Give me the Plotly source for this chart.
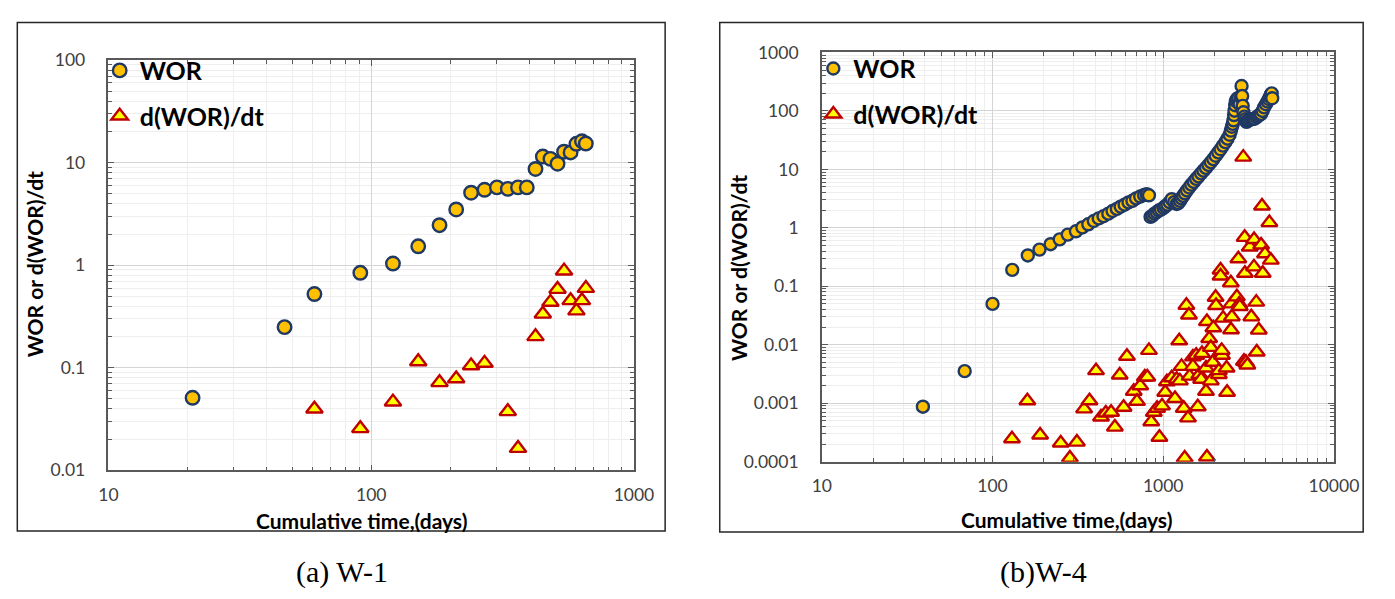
import numpy as np
import plotly.graph_objects as go

# ---------------- W-1 ----------------
w1_time = [20.9, 46.8, 60.8, 90.9, 121, 151, 182, 210.6, 240, 270, 301, 331, 362,
           391, 422, 450, 481, 512, 542, 574, 604, 634, 656]
w1_wor = [0.051, 0.249, 0.524, 0.844, 1.04, 1.53, 2.46, 3.50, 5.10, 5.45, 5.75, 5.56,
          5.75, 5.75, 8.69, 11.5, 10.9, 9.78, 12.8, 12.6, 15.3, 16.2, 15.4]

w1_dtime = [60.8, 90.9, 121, 151, 182, 210.6, 240, 270, 331, 362, 422, 450, 481, 512,
            542, 574, 604, 634, 656]
w1_dwor = [0.0397, 0.0256, 0.0465, 0.115, 0.0719, 0.0783, 0.105, 0.111, 0.0375, 0.0164,
           0.202, 0.335, 0.437, 0.584, 0.882, 0.453, 0.36, 0.453, 0.597]

# ---------------- W-4 ----------------
w4_time = [39.1, 68.7, 100, 130.5, 161, 188.5, 219, 247.5, 276, 308, 336, 364, 392, 419,
           447, 477, 505, 535, 563, 594, 626, 660, 693, 733, 772, 800, 825,
           843, 865, 889, 915, 941, 970, 1005, 1030, 1059, 1090, 1122, 1160, 1199, 1225,
           1253, 1280, 1308, 1340, 1378, 1420, 1461, 1510, 1560, 1610, 1667, 1720, 1780,
           1840, 1901, 1965, 2030, 2100, 2167, 2240, 2313, 2380, 2449, 2490, 2524, 2555,
           2581, 2600, 2616, 2640, 2661, 2700, 2755, 2800, 2856, 2877, 2900, 2920, 2950,
           2990, 3030, 3076, 3130, 3200, 3280, 3350, 3433, 3520, 3600, 3680, 3741, 3820,
           3900, 3997, 4080, 4150, 4220, 4271, 4320, 4350]
w4_wor = [0.00087, 0.00353, 0.05, 0.191, 0.337, 0.424, 0.525, 0.634, 0.766, 0.872, 1.016,
          1.15, 1.31, 1.45, 1.58, 1.75, 1.94, 2.11, 2.31, 2.49, 2.73, 2.90, 3.18, 3.43,
          3.64, 3.75, 3.6,
          1.54, 1.62, 1.75, 1.85, 1.98, 2.05, 2.20, 2.35, 2.49, 2.75, 3.09, 2.75, 2.56,
          2.65, 2.90, 3.2, 3.51, 3.9, 4.36, 4.9, 5.47, 6.1, 6.87, 7.6, 8.53, 9.5, 10.6,
          11.9, 13.3, 15.0, 17.1, 19.5, 22.1, 25.5, 29.2, 33.5, 39.1, 46, 53.6, 60,
          69.1, 85, 101, 125, 148, 160, 167, 130, 172, 267, 180, 122, 95,
          80, 72, 65, 68, 70, 72, 73, 73.5, 78, 82, 86, 88.8, 100,
          115, 130, 145, 160, 175, 190, 200, 165]

w4_dtime = [130, 160, 190, 251, 284, 312, 344, 370, 404, 432, 461, 495, 521, 556, 586, 613,
            672, 702, 733, 780, 807, 825, 851, 881, 921, 950, 984, 1027, 1051, 1122, 1172,
            1199, 1241, 1252, 1280, 1319, 1336, 1367, 1397, 1415, 1428, 1493, 1493, 1560,
            1594, 1629, 1667, 1687, 1780, 1780, 1803, 1803, 1859, 1900, 1900, 1950, 1966,
            2027, 2040, 2118, 2118, 2167, 2167, 2167, 2209, 2200, 2243, 2350, 2366, 2490,
            2495, 2510, 2524, 2700, 2754, 2790, 2810, 2943, 2970, 3000, 3010, 3050, 3110,
            3214, 3281, 3400, 3405, 3507, 3530, 3630, 3745, 3790, 3828, 3946, 4188, 4270]
w4_dwor = [0.000246, 0.0011, 0.000286, 0.000208, 0.000115, 0.000216, 0.0008, 0.0011,
           0.0036, 0.00058, 0.00068, 0.0007, 0.00039, 0.00303, 0.00085, 0.00637,
           0.0016, 0.00108, 0.00199, 0.0028, 0.0028, 0.008, 0.00048, 0.0007, 0.00082,
           0.000262, 0.0009, 0.00154, 0.00232, 0.00273, 0.0012,
           0.00256, 0.0117, 0.00241, 0.00426, 0.00082, 0.000115, 0.0472, 0.00056, 0.0323,
           0.0029, 0.0062, 0.00426, 0.0066,
           0.00087, 0.0031, 0.00256, 0.0071, 0.004, 0.0016, 0.00012, 0.025, 0.0128, 0.009,
           0.00241, 0.005, 0.0195,
           0.0649, 0.047, 0.0031, 0.0036, 0.19, 0.15, 0.0075, 0.0066, 0.008, 0.0285,
           0.004, 0.00154, 0.1145,
           0.018, 0.05, 0.03, 0.066, 0.296, 0.05, 0.045, 16.2, 0.0052, 0.688, 0.1675,
           0.005, 0.0045,
           0.47, 0.03, 0.215, 0.63, 0.0536, 0.0075, 0.0178, 0.51, 2.37, 0.1675, 0.36,
           1.23, 0.28]

# Tick labels
w1_xticks = [10, 100, 1000]
w1_yticks = [0.01, 0.1, 1, 10, 100]
w1_yticktext = ["0.01", "0.1", "1", "10", "100"]
w4_xticks = [10, 100, 1000, 10000]
w4_yticks = [0.0001, 0.001, 0.01, 0.1, 1, 10, 100, 1000]
w4_yticktext = ["0.0001", "0.001", "0.01", "0.1", "1", "10", "100", "1000"]

W, H = 1395, 599
TICK_FONT = dict(family="Lato", size=17.5, color="#404040")
NAVY = "#1F3864"
GOLD = "#FFC000"


def minor_vals(lo, hi):
    vals = []
    for e in range(lo, hi):
        for m in range(2, 10):
            vals.append(m * 10.0 ** e)
    return vals


def px_x(p):
    return p / W


def px_y(p):
    return 1 - p / H


fig = go.Figure()

# WOR circles and derivative triangles, W-1
fig.add_trace(go.Scatter(
    x=w1_time, y=w1_wor, mode="markers", name="WOR", xaxis="x", yaxis="y",
    legend="legend", legendgroup="a1",
    marker=dict(symbol="circle", size=13.5, color=GOLD, line=dict(color=NAVY, width=2.4))))
fig.add_trace(go.Scatter(
    x=w1_dtime, y=w1_dwor, mode="markers", name="d(WOR)/dt", xaxis="x", yaxis="y",
    legend="legend", legendgroup="a2",
    marker=dict(symbol="triangle-up", size=14.5, color="#FFFF00",
                line=dict(color="#C00000", width=2.4))))

# W-4
fig.add_trace(go.Scatter(
    x=w4_time, y=w4_wor, mode="markers", name="WOR", xaxis="x2", yaxis="y2",
    legend="legend2", legendgroup="b1",
    marker=dict(symbol="circle", size=12, color=GOLD, line=dict(color=NAVY, width=2.4))))
fig.add_trace(go.Scatter(
    x=w4_dtime, y=w4_dwor, mode="markers", name="d(WOR)/dt", xaxis="x2", yaxis="y2",
    legend="legend2", legendgroup="b2",
    marker=dict(symbol="triangle-up", size=14, color="#FFFF00",
                line=dict(color="#C00000", width=2.4))))


def log_axis(domain, rng, tickvals, ticktext, anchor, minor_lo, minor_hi, standoff):
    return dict(
        type="log", domain=domain, range=rng, anchor=anchor,
        tickmode="array", tickvals=tickvals, ticktext=ticktext,
        ticks="inside", ticklen=6, tickwidth=1, tickcolor="#595959",
        showline=True, linecolor="#595959", linewidth=1.5, mirror="allticks",
        showgrid=True, gridcolor="#D4D4D4", gridwidth=1,
        zeroline=False, tickfont=TICK_FONT, ticklabelstandoff=standoff,
        minor=dict(tickmode="array", tickvals=minor_vals(minor_lo, minor_hi),
                   ticks="inside", ticklen=4, tickcolor="#595959",
                   showgrid=True, gridcolor="#EEEEEE", gridwidth=1),
    )


LEGEND_FONT = dict(family="Lato", size=25, color="#000000", weight="bold")

fig.update_layout(
    width=W, height=H,
    margin=dict(l=0, r=0, t=0, b=0),
    paper_bgcolor="white", plot_bgcolor="white",
    xaxis=log_axis([px_x(101), px_x(640)], [1, 3], w1_xticks,
                   [str(v) for v in w1_xticks], "y", 1, 3, 8),
    yaxis=log_axis([px_y(476), px_y(51)], [-2, 2], w1_yticks, w1_yticktext, "x", -2, 2, 18),
    xaxis2=log_axis([px_x(832.7), px_x(1358)], [1, 4], w4_xticks,
                    [str(v) for v in w4_xticks], "y2", 1, 4, 8),
    yaxis2=log_axis([px_y(467), px_y(43)], [-4, 3], w4_yticks, w4_yticktext, "x2", -4, 3,
                    18),
    legend=dict(x=px_x(92), y=px_y(38), xanchor="left", yanchor="top",
                bgcolor="rgba(0,0,0,0)", tracegroupgap=10, itemsizing="trace",
                font=LEGEND_FONT),
    legend2=dict(x=px_x(824), y=px_y(36), xanchor="left", yanchor="top",
                 bgcolor="rgba(0,0,0,0)", tracegroupgap=10, itemsizing="trace",
                 font=LEGEND_FONT),
    showlegend=True,
)

# Panel frames
for x0, x1, y0, y1 in [(7.5, 672, 12, 539), (728, 1388, 12, 540)]:
    fig.add_shape(type="rect", xref="paper", yref="paper",
                  x0=px_x(x0), x1=px_x(x1), y0=px_y(y1), y1=px_y(y0),
                  line=dict(color="#262626", width=1.5), fillcolor="rgba(0,0,0,0)")

TITLE_FONT = dict(family="Lato", size=21, color="#000000")
annots = [
    dict(x=px_x(361), y=px_y(528), text="<b>Cumulative time,(days)</b>", font=TITLE_FONT),
    dict(x=px_x(1084), y=px_y(527), text="<b>Cumulative time,(days)</b>", font=TITLE_FONT),
    dict(x=px_x(25), y=px_y(262), text="<b>WOR or d(WOR)/dt</b>", font=TITLE_FONT,
         textangle=-90),
    dict(x=px_x(747), y=px_y(266), text="<b>WOR or d(WOR)/dt</b>", font=TITLE_FONT,
         textangle=-90),
    dict(x=px_x(341), y=px_y(581), text="(a) W-1",
         font=dict(family="Liberation Serif", size=30, color="#000000")),
    dict(x=px_x(1060), y=px_y(581), text="(b)W-4",
         font=dict(family="Liberation Serif", size=30, color="#000000")),
]
for a in annots:
    fig.add_annotation(xref="paper", yref="paper", showarrow=False,
                       xanchor="center", yanchor="middle", **a)

fig.write_html("out.html")
